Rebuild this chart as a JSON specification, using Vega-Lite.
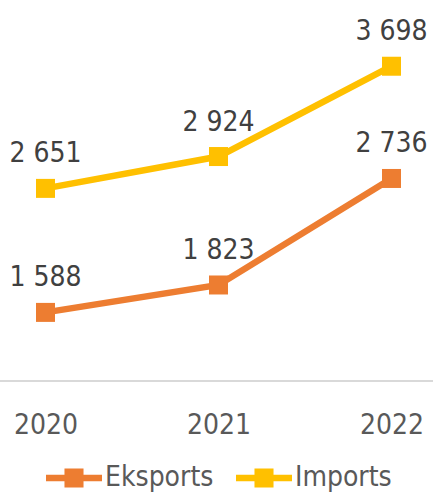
{
  "$schema": "https://vega.github.io/schema/vega-lite/v6.json",
  "width": 433,
  "height": 350,
  "autosize": "none",
  "padding": {"left": 0, "top": 31, "right": 0, "bottom": 115},
  "config": {
    "view": {"stroke": null},
    "locale": {"number": {"decimal": ",", "thousands": " ", "grouping": [3], "currency": ["", " €"]}},
    "font": "DejaVu Sans Condensed, Liberation Sans, sans-serif"
  },
  "data": {
    "values": [
      {"year": "2020", "series": "Eksports", "value": 1588},
      {"year": "2021", "series": "Eksports", "value": 1823},
      {"year": "2022", "series": "Eksports", "value": 2736},
      {"year": "2020", "series": "Imports", "value": 2651},
      {"year": "2021", "series": "Imports", "value": 2924},
      {"year": "2022", "series": "Imports", "value": 3698}
    ]
  },
  "encoding": {
    "x": {
      "field": "year", "type": "ordinal",
      "scale": {"type": "point", "range": [45.5, 391.5], "padding": 0},
      "axis": {"title": null, "domain": false, "ticks": false, "grid": false, "labelAngle": 0,
               "labelFont": "DejaVu Sans Condensed, Liberation Sans, sans-serif", "labelFontSize": 28, "labelColor": "#595959",
               "labelBaseline": "alphabetic", "labelPadding": 52}
    },
    "y": {
      "field": "value", "type": "quantitative",
      "scale": {"domain": [1000, 4000], "nice": false, "zero": false},
      "axis": null
    },
    "color": {
      "field": "series", "type": "nominal",
      "scale": {"domain": ["Eksports", "Imports"], "range": ["#ED7D31", "#FFC000"]},
      "legend": {
        "title": null, "orient": "none", "direction": "horizontal",
        "legendX": 46, "legendY": 419,
        "symbolType": "M-1,-0.12H1V0.12H-1Z M-0.34,-0.34H0.34V0.34H-0.34Z",
        "symbolSize": 3136, "symbolStrokeWidth": 0,
        "labelFont": "DejaVu Sans Condensed, Liberation Sans, sans-serif", "labelFontSize": 28, "labelColor": "#595959",
        "labelOffset": 3, "columnPadding": 22, "padding": 0,
        "encode": {"symbols": {"update": {"fill": {"scale": "color", "field": "value"}, "fillOpacity": {"value": 1}, "strokeWidth": {"value": 0}}}}
      }
    }
  },
  "layer": [
    {
      "mark": {"type": "rule", "color": "#D9D9D9", "strokeWidth": 1.5},
      "encoding": {"y": {"datum": 1000}, "x": null, "color": null}
    },
    {
      "mark": {"type": "line", "strokeWidth": 6.5}
    },
    {
      "mark": {"type": "point", "shape": "square", "filled": true, "size": 361, "opacity": 1}
    },
    {
      "mark": {"type": "text", "baseline": "alphabetic", "dy": -26, "fontSize": 28, "font": "DejaVu Sans Condensed, Liberation Sans, sans-serif", "color": "#404040"},
      "encoding": {"text": {"field": "value", "type": "quantitative", "format": ",d"}, "color": null}
    }
  ]
}
